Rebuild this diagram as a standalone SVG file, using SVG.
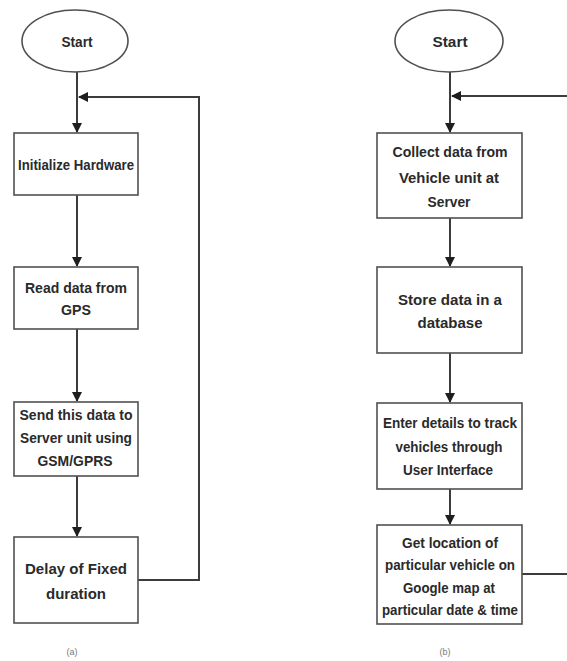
<svg xmlns="http://www.w3.org/2000/svg" width="567" height="661" viewBox="0 0 567 661">
  <style>
    .shape { fill: #ffffff; stroke: #505050; stroke-width: 1.6; }
    .link { fill: none; stroke: #3c3c3c; stroke-width: 2; }
    .lbl { font-family: "Liberation Sans", Arial, sans-serif; font-weight: bold; fill: #2a2a2a; text-anchor: middle; }
    .l { font-size: 15.5px; }
    .r { font-size: 14.5px; }
    .s { font-size: 14px; }
    .cap { font-family: "Liberation Sans", Arial, sans-serif; font-size: 9px; fill: #777; text-anchor: middle; }
  </style>
  <defs>
    <marker id="arrow" viewBox="0 0 10 10" refX="9" refY="5" markerWidth="5" markerHeight="5" orient="auto" markerUnits="strokeWidth">
      <path d="M0,0 L10,5 L0,10 Z" fill="#1e1e1e"/>
    </marker>
  </defs>
  <rect width="567" height="661" fill="#ffffff"/>

  <!-- connectors -->
  <g id="connectors">
    <!-- flow (a) -->
    <line class="link" x1="77" y1="72" x2="77" y2="132" marker-end="url(#arrow)"/>
    <line class="link" x1="77" y1="195" x2="77" y2="266" marker-end="url(#arrow)"/>
    <line class="link" x1="77" y1="329" x2="77" y2="401" marker-end="url(#arrow)"/>
    <line class="link" x1="77" y1="476" x2="77" y2="536" marker-end="url(#arrow)"/>
    <path class="link" d="M138 580 H199 V97 H79" marker-end="url(#arrow)"/>
    <!-- flow (b) -->
    <line class="link" x1="450" y1="72" x2="450" y2="132" marker-end="url(#arrow)"/>
    <line class="link" x1="450" y1="218" x2="450" y2="266" marker-end="url(#arrow)"/>
    <line class="link" x1="450" y1="353" x2="450" y2="402" marker-end="url(#arrow)"/>
    <line class="link" x1="450" y1="489" x2="450" y2="524" marker-end="url(#arrow)"/>
    <path class="link" d="M522 574 H572 V96 H452" marker-end="url(#arrow)"/>
  </g>

  <!-- flow (a) nodes -->
  <g id="a-start">
    <ellipse class="shape" cx="75" cy="41" rx="53" ry="31"/>
    <text class="lbl s" x="77" y="47" textLength="31" lengthAdjust="spacingAndGlyphs">Start</text>
  </g>
  <g id="a-init">
    <rect class="shape" x="14" y="133" width="124" height="62"/>
    <text class="lbl s" x="76" y="170" textLength="116" lengthAdjust="spacingAndGlyphs">Initialize Hardware</text>
  </g>
  <g id="a-read">
    <rect class="shape" x="14" y="267" width="124" height="62"/>
    <text class="lbl l" x="76" y="293" textLength="102" lengthAdjust="spacingAndGlyphs">Read data from</text>
    <text class="lbl l" x="76" y="315" textLength="30" lengthAdjust="spacingAndGlyphs">GPS</text>
  </g>
  <g id="a-send">
    <rect class="shape" x="14" y="402" width="124" height="74"/>
    <text class="lbl l" x="76" y="420" textLength="113" lengthAdjust="spacingAndGlyphs">Send this data to</text>
    <text class="lbl l" x="76" y="443" textLength="112" lengthAdjust="spacingAndGlyphs">Server unit using</text>
    <text class="lbl l" x="75" y="466" textLength="75" lengthAdjust="spacingAndGlyphs">GSM/GPRS</text>
  </g>
  <g id="a-delay">
    <rect class="shape" x="14" y="537" width="124" height="86"/>
    <text class="lbl l" x="76" y="574" textLength="102" lengthAdjust="spacingAndGlyphs">Delay of Fixed</text>
    <text class="lbl l" x="76" y="599" textLength="60" lengthAdjust="spacingAndGlyphs">duration</text>
  </g>
  <text class="cap" x="72" y="655">(a)</text>

  <!-- flow (b) nodes -->
  <g id="b-start">
    <ellipse class="shape" cx="449" cy="41" rx="54" ry="31"/>
    <text class="lbl s" x="450" y="47" textLength="35" lengthAdjust="spacingAndGlyphs">Start</text>
  </g>
  <g id="b-collect">
    <rect class="shape" x="377" y="133" width="145" height="85"/>
    <text class="lbl r" x="450" y="157" textLength="115" lengthAdjust="spacingAndGlyphs">Collect data from</text>
    <text class="lbl r" x="449" y="183" textLength="100" lengthAdjust="spacingAndGlyphs">Vehicle unit at</text>
    <text class="lbl r" x="449" y="207" textLength="43" lengthAdjust="spacingAndGlyphs">Server</text>
  </g>
  <g id="b-store">
    <rect class="shape" x="377" y="267" width="145" height="86"/>
    <text class="lbl r" x="450" y="305" textLength="104" lengthAdjust="spacingAndGlyphs">Store data in a</text>
    <text class="lbl r" x="450" y="328" textLength="65" lengthAdjust="spacingAndGlyphs">database</text>
  </g>
  <g id="b-enter">
    <rect class="shape" x="377" y="403" width="145" height="86"/>
    <text class="lbl r" x="450" y="428" textLength="134" lengthAdjust="spacingAndGlyphs">Enter details to track</text>
    <text class="lbl r" x="449" y="452" textLength="107" lengthAdjust="spacingAndGlyphs">vehicles through</text>
    <text class="lbl r" x="448" y="475" textLength="90" lengthAdjust="spacingAndGlyphs">User Interface</text>
  </g>
  <g id="b-locate">
    <rect class="shape" x="377" y="525" width="145" height="99"/>
    <text class="lbl r" x="450" y="548" textLength="96" lengthAdjust="spacingAndGlyphs">Get location of</text>
    <text class="lbl r" x="450" y="570" textLength="130" lengthAdjust="spacingAndGlyphs">particular vehicle on</text>
    <text class="lbl r" x="449" y="593" textLength="92" lengthAdjust="spacingAndGlyphs">Google map at</text>
    <text class="lbl r" x="450" y="615" textLength="136" lengthAdjust="spacingAndGlyphs">particular date &amp; time</text>
  </g>
  <text class="cap" x="445" y="655">(b)</text>
</svg>
